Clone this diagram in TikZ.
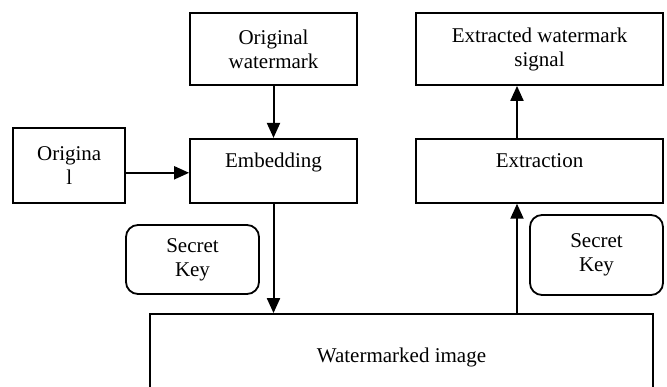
\documentclass[tikz,border=0pt]{standalone}
\usepackage{fontspec}
\setmainfont{Liberation Serif}
\usetikzlibrary{arrows.meta,positioning,calc}

\begin{document}
\begin{tikzpicture}[
    x=1pt, y=-1pt,
    node distance=52pt and 63pt,
    box/.style={rectangle, draw, line width=1.8pt, align=center, inner sep=2pt, font=\fontsize{21}{24}\selectfont},
    keybox/.style={box, rounded corners=12pt, minimum width=133pt},
    toptext/.style={text height=15pt, text depth=21pt},
    arrow/.style={-{Triangle[length=15pt,width=13pt]}, line width=2pt}
]
    \useasboundingbox (0,0) rectangle (667,387);

    % Embedding side
    \node[box, minimum width=167pt, minimum height=72pt] (wm) at (273.5,49) {Original\\watermark};
    \node[box, toptext, minimum width=167pt, minimum height=64pt, below=of wm] (embed) {Embedding};
    \node[box, minimum width=112pt, minimum height=75pt, left=of embed, yshift=5.5pt] (orig) {Origina\\l};
    \node[keybox, minimum height=69pt] (key1) at (192.5,259.5) {Secret\\Key};

    % Watermarked image
    \node[box, minimum width=503pt, minimum height=86pt] (wmimg) at (401.5,357) {Watermarked image};

    % Extraction side
    \node[box, minimum width=247pt, minimum height=72pt] (extwm) at (539.5,49) {Extracted watermark\\signal};
    \node[box, toptext, minimum width=247pt, minimum height=64pt, below=of extwm] (extract) {Extraction};
    \node[keybox, minimum height=80pt] (key2) at (596.5,255) {Secret\\Key};

    % Arrows
    \coordinate (in1) at ([yshift=-7.5pt]orig.east);
    \coordinate (out1) at ([xshift=-22.5pt]extract.south);
    \draw[arrow] (wm) -- (embed);
    \draw[arrow] (in1) -- (in1 -| embed.west);
    \draw[arrow] (embed.south) -- (embed.south |- wmimg.north);
    \draw[arrow] (out1 |- wmimg.north) -- (out1);
    \draw[arrow] (out1 |- extract.north) -- (out1 |- extwm.south);

\end{tikzpicture}
\end{document}
